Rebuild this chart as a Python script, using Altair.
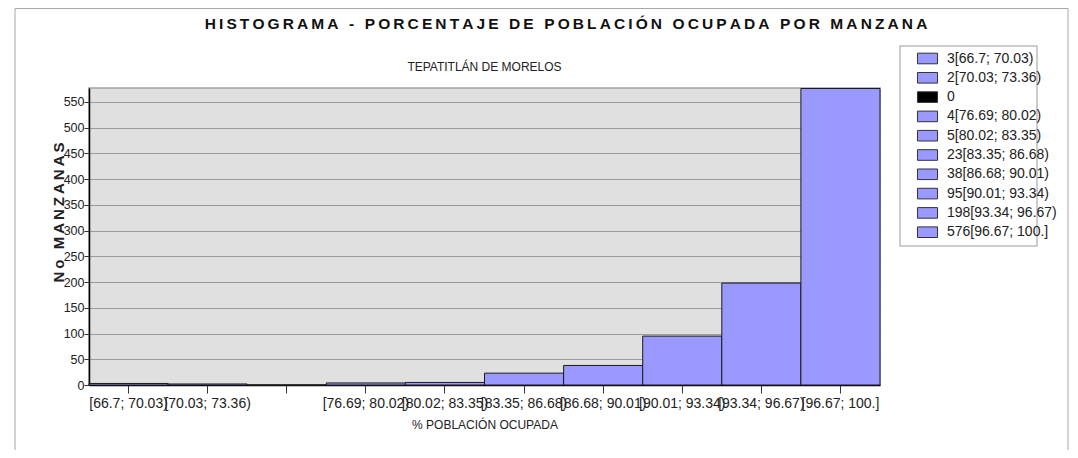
import altair as alt
import pandas as pd

# ---- data ----
bins = ["[66.7; 70.03)", "[70.03; 73.36)", "", "[76.69; 80.02)", "[80.02; 83.35)",
        "[83.35; 86.68)", "[86.68; 90.01)", "[90.01; 93.34)", "[93.34; 96.67)", "[96.67; 100.]"]
counts = [3, 2, 0, 4, 5, 23, 38, 95, 198, 576]
bar_colors = ["#9999ff", "#9999ff", "#000000", "#9999ff", "#9999ff",
              "#9999ff", "#9999ff", "#9999ff", "#9999ff", "#9999ff"]
y_ticks = [0, 50, 100, 150, 200, 250, 300, 350, 400, 450, 500, 550]

title_text = "HISTOGRAMA - PORCENTAJE DE POBLACIÓN OCUPADA POR MANZANA"
subtitle_text = "TEPATITLÁN DE MORELOS"
x_title = "% POBLACIÓN OCUPADA"
y_title = "No MANZANAS"

FONT = "Liberation Sans, Arial, sans-serif"


def tracked(s):
    # the reference draws these titles with wide letter spacing
    return "\u2009".join(s)


legend_labels = [str(c) + b for c, b in zip(counts, bins)]

df = pd.DataFrame({"bin": bins, "count": counts, "leg": legend_labels})

W, H = 791, 297

bars = alt.Chart(df).mark_bar(stroke="#1a1a1a", strokeWidth=1, opacity=1).encode(
    x=alt.X("bin:N", sort=bins,
            scale=alt.Scale(paddingInner=0, paddingOuter=0),
            axis=alt.Axis(title=x_title, labelAngle=0, tickSize=8, labelPadding=3,
                          labelFontSize=14, labelFont=FONT, labelColor="#222",
                          tickColor="#333", domainColor="#000", domainWidth=1.5,
                          titleFont=FONT, titleFontSize=12, titleFontWeight="normal",
                          titleColor="#222", titleY=39, titleBaseline="middle",
                          labelOverlap=False)),
    y=alt.Y("count:Q", scale=alt.Scale(domain=[0, 577], nice=False, zero=True),
            axis=alt.Axis(values=y_ticks, title=tracked(y_title), grid=True,
                          gridColor="#9a9a9a", gridWidth=1, tickSize=5, labelPadding=0,
                          tickColor="#333", domainColor="#000", domainWidth=1.5,
                          labelFont=FONT, labelFontSize=12.5, labelColor="#222",
                          titleFont=FONT, titleFontSize=15, titleFontWeight="bold",
                          titleColor="#222", titleX=-31, titleY=124,
                          titleAlign="center", titleBaseline="middle", titleAngle=-90)),
    color=alt.Color("leg:N",
                    scale=alt.Scale(domain=legend_labels, range=bar_colors),
                    legend=alt.Legend(title=None, orient="none", legendX=828, legendY=-40,
                                      symbolType="M-1.04,-0.55H1.04V0.55H-1.04Z",
                                      symbolSize=372, symbolStrokeColor="#333",
                                      symbolStrokeWidth=1, symbolOpacity=1,
                                      labelFont=FONT, labelFontSize=14, labelColor="#222",
                                      rowPadding=1.3, padding=0, labelOffset=9,
                                      labelLimit=200)),
)

one = pd.DataFrame({"t": [tracked(title_text)]})
frame = alt.Chart(one).mark_rect(fillOpacity=0, stroke="#a8a8a8", strokeWidth=1).encode(
    x=alt.value(-74), x2=alt.value(979), y=alt.value(-79.5), y2=alt.value(363))

legbox = alt.Chart(one).mark_rect(fill="white", stroke="#bdbdbd", strokeWidth=1.5).encode(
    x=alt.value(811), x2=alt.value(948), y=alt.value(-42), y2=alt.value(158))

title = alt.Chart(one).mark_text(font=FONT, fontSize=15.5, fontWeight="bold", color="#111",
                                 baseline="middle", align="center").encode(
    x=alt.value(477), y=alt.value(-64), text="t:N")

sub = alt.Chart(pd.DataFrame({"t": [subtitle_text]})).mark_text(
    font=FONT, fontSize=12, color="#222", baseline="middle", align="center").encode(
    x=alt.value(395.5), y=alt.value(-21), text="t:N")

chart = alt.layer(frame, legbox, bars, title, sub).properties(
    width=W, height=H,
    padding={"left": 81, "top": 80, "right": 190, "bottom": 65},
    autosize=alt.AutoSizeParams(type="none"),
).configure(background="white").configure_view(
    fill="#e0e0e0", stroke="#a0a0a0", strokeWidth=1.5)

chart.save("out.html", embed_options={"renderer": "svg", "actions": False})
